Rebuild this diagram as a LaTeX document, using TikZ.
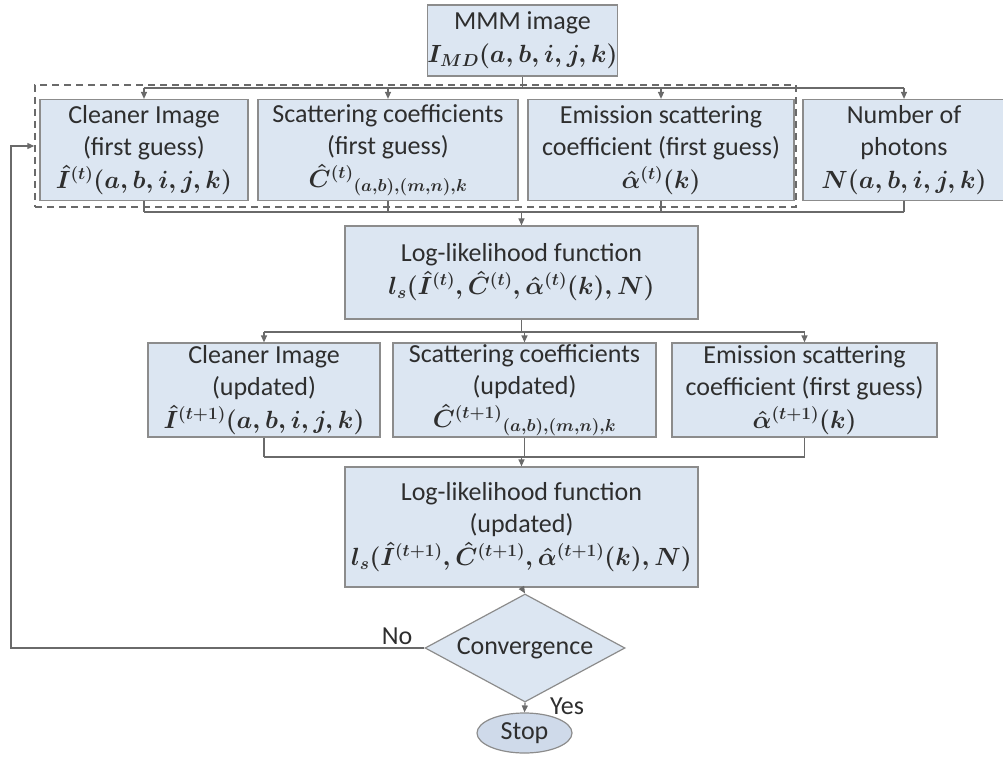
\documentclass[tikz,border=0pt]{standalone}
\usepackage{fontspec}
\setmainfont{Carlito}
\usepackage{amsmath}
\usetikzlibrary{arrows.meta,shapes.geometric}
\definecolor{boxfill}{HTML}{DCE6F2}
\definecolor{boxline}{HTML}{8C8C8C}
\definecolor{linecol}{HTML}{6A6A6A}
\definecolor{txt}{HTML}{2E2E2E}
\definecolor{stopfill}{HTML}{CFDAEA}
\newcommand\mth[1]{{\fontsize{27}{32}\selectfont\boldmath$#1$}}
\begin{document}
\begin{tikzpicture}[x=1pt,y=-1pt,
  box/.style={draw=boxline, fill=boxfill, line width=1.2pt, inner sep=0pt, align=center, text=txt, font=\fontsize{26}{32}\selectfont},
  wire/.style={draw=linecol, line width=1.2pt},
  arr/.style={wire, -{Triangle[length=7pt,width=6pt]}},
  grpbox/.style={draw=linecol, line width=1.4pt, dash pattern=on 7pt off 5pt, inner sep=0pt},
  lbl/.style={text=txt, font=\fontsize{26}{30}\selectfont, inner sep=0pt}]
\useasboundingbox (0,0) rectangle (1003,759);

\node[grpbox, minimum width=761, minimum height=122] (grp) at (415.5,146) {};

\node[box, minimum width=181, minimum height=71] (mmm) at (522.5,40.5) {MMM image\\[1pt]\mth{I_{MD}(a,b,i,j,k)}};

\node[box, minimum width=208, minimum height=101] (c1) at (144,150) {Cleaner Image\\(first guess)\\[1pt]\mth{\hat{I}^{(t)}(a,b,i,j,k)}};
\node[box, minimum width=260, minimum height=101] (c2) at (388,150) {Scattering coefficients\\(first guess)\\[1pt]\mth{\hat{C}^{(t)}{}_{(a,b),(m,n),k}}};
\node[box, minimum width=266, minimum height=101] (c3) at (661,150) {Emission scattering\\coefficient (first guess)\\[1pt]\mth{\hat{\alpha}^{(t)}(k)}};
\node[box, minimum width=202, minimum height=101] (c4) at (904,150) {Number of\\photons\\[1pt]\mth{N(a,b,i,j,k)}};

\node[box, minimum width=353, minimum height=93] (ll) at (521.5,272.5) {Log-likelihood function\\[1pt]\mth{l_s(\hat{I}^{(t)},\hat{C}^{(t)},\hat{\alpha}^{(t)}(k),N)}};

\node[box, minimum width=232, minimum height=94] (r1) at (264,390) {Cleaner Image\\(updated)\\[1pt]\mth{\hat{I}^{(t+1)}(a,b,i,j,k)}};
\node[box, minimum width=263, minimum height=94] (r2) at (524.5,390) {Scattering coefficients\\(updated)\\[1pt]\mth{\hat{C}^{(t+1)}{}_{(a,b),(m,n),k}}};
\node[box, minimum width=265, minimum height=94] (r3) at (804.5,390) {Emission scattering\\coefficient (first guess)\\[1pt]\mth{\hat{\alpha}^{(t+1)}(k)}};

\node[box, minimum width=353, minimum height=120] (ll2) at (521.5,527) {Log-likelihood function\\(updated)\\[1pt]\mth{l_s(\hat{I}^{(t+1)},\hat{C}^{(t+1)},\hat{\alpha}^{(t+1)}(k),N)}};

\node[box, diamond, aspect=1.85, minimum width=200, minimum height=108] (conv) at (525,648) {Convergence};
\node[box, ellipse, fill=stopfill, minimum width=95, minimum height=40] (stop) at (524.5,733) {Stop};

\node[lbl] (no) at (397,636) {No};
\node[lbl] (yes) at (567,706) {Yes};

\coordinate (b1) at (0,88);
\coordinate (b2) at (0,212);
\coordinate (b3) at (0,332);
\coordinate (b4) at (0,457);
\coordinate (fb) at (11,648);

\draw[wire] (mmm.south) -- (mmm.south |- b1);
\draw[wire] (c1.north |- b1) -- (c4.north |- b1);
\foreach \n in {c1,c2,c3,c4} \draw[arr] (\n.north |- b1) -- (\n.north);
\foreach \n in {c1,c2,c3,c4} \draw[wire] (\n.south) -- (\n.south |- b2);
\draw[wire] (c1.south |- b2) -- (c4.south |- b2);
\draw[arr] (ll.north |- b2) -- (ll.north);

\draw[wire] (ll.south) -- (ll.south |- b3);
\draw[wire] (r1.north |- b3) -- (r3.north |- b3);
\foreach \n in {r1,r2,r3} \draw[arr] (\n.north |- b3) -- (\n.north);
\foreach \n in {r1,r2,r3} \draw[wire] (\n.south) -- (\n.south |- b4);
\draw[wire] (r1.south |- b4) -- (r3.south |- b4);
\draw[arr] (ll2.north |- b4) -- (ll2.north);

\draw[arr] (ll2.south) -- (conv.north);
\draw[arr] (conv.south) -- (stop.north);
\draw[arr] (conv.west) -- (fb) |- (grp.west);
\end{tikzpicture}
\end{document}
